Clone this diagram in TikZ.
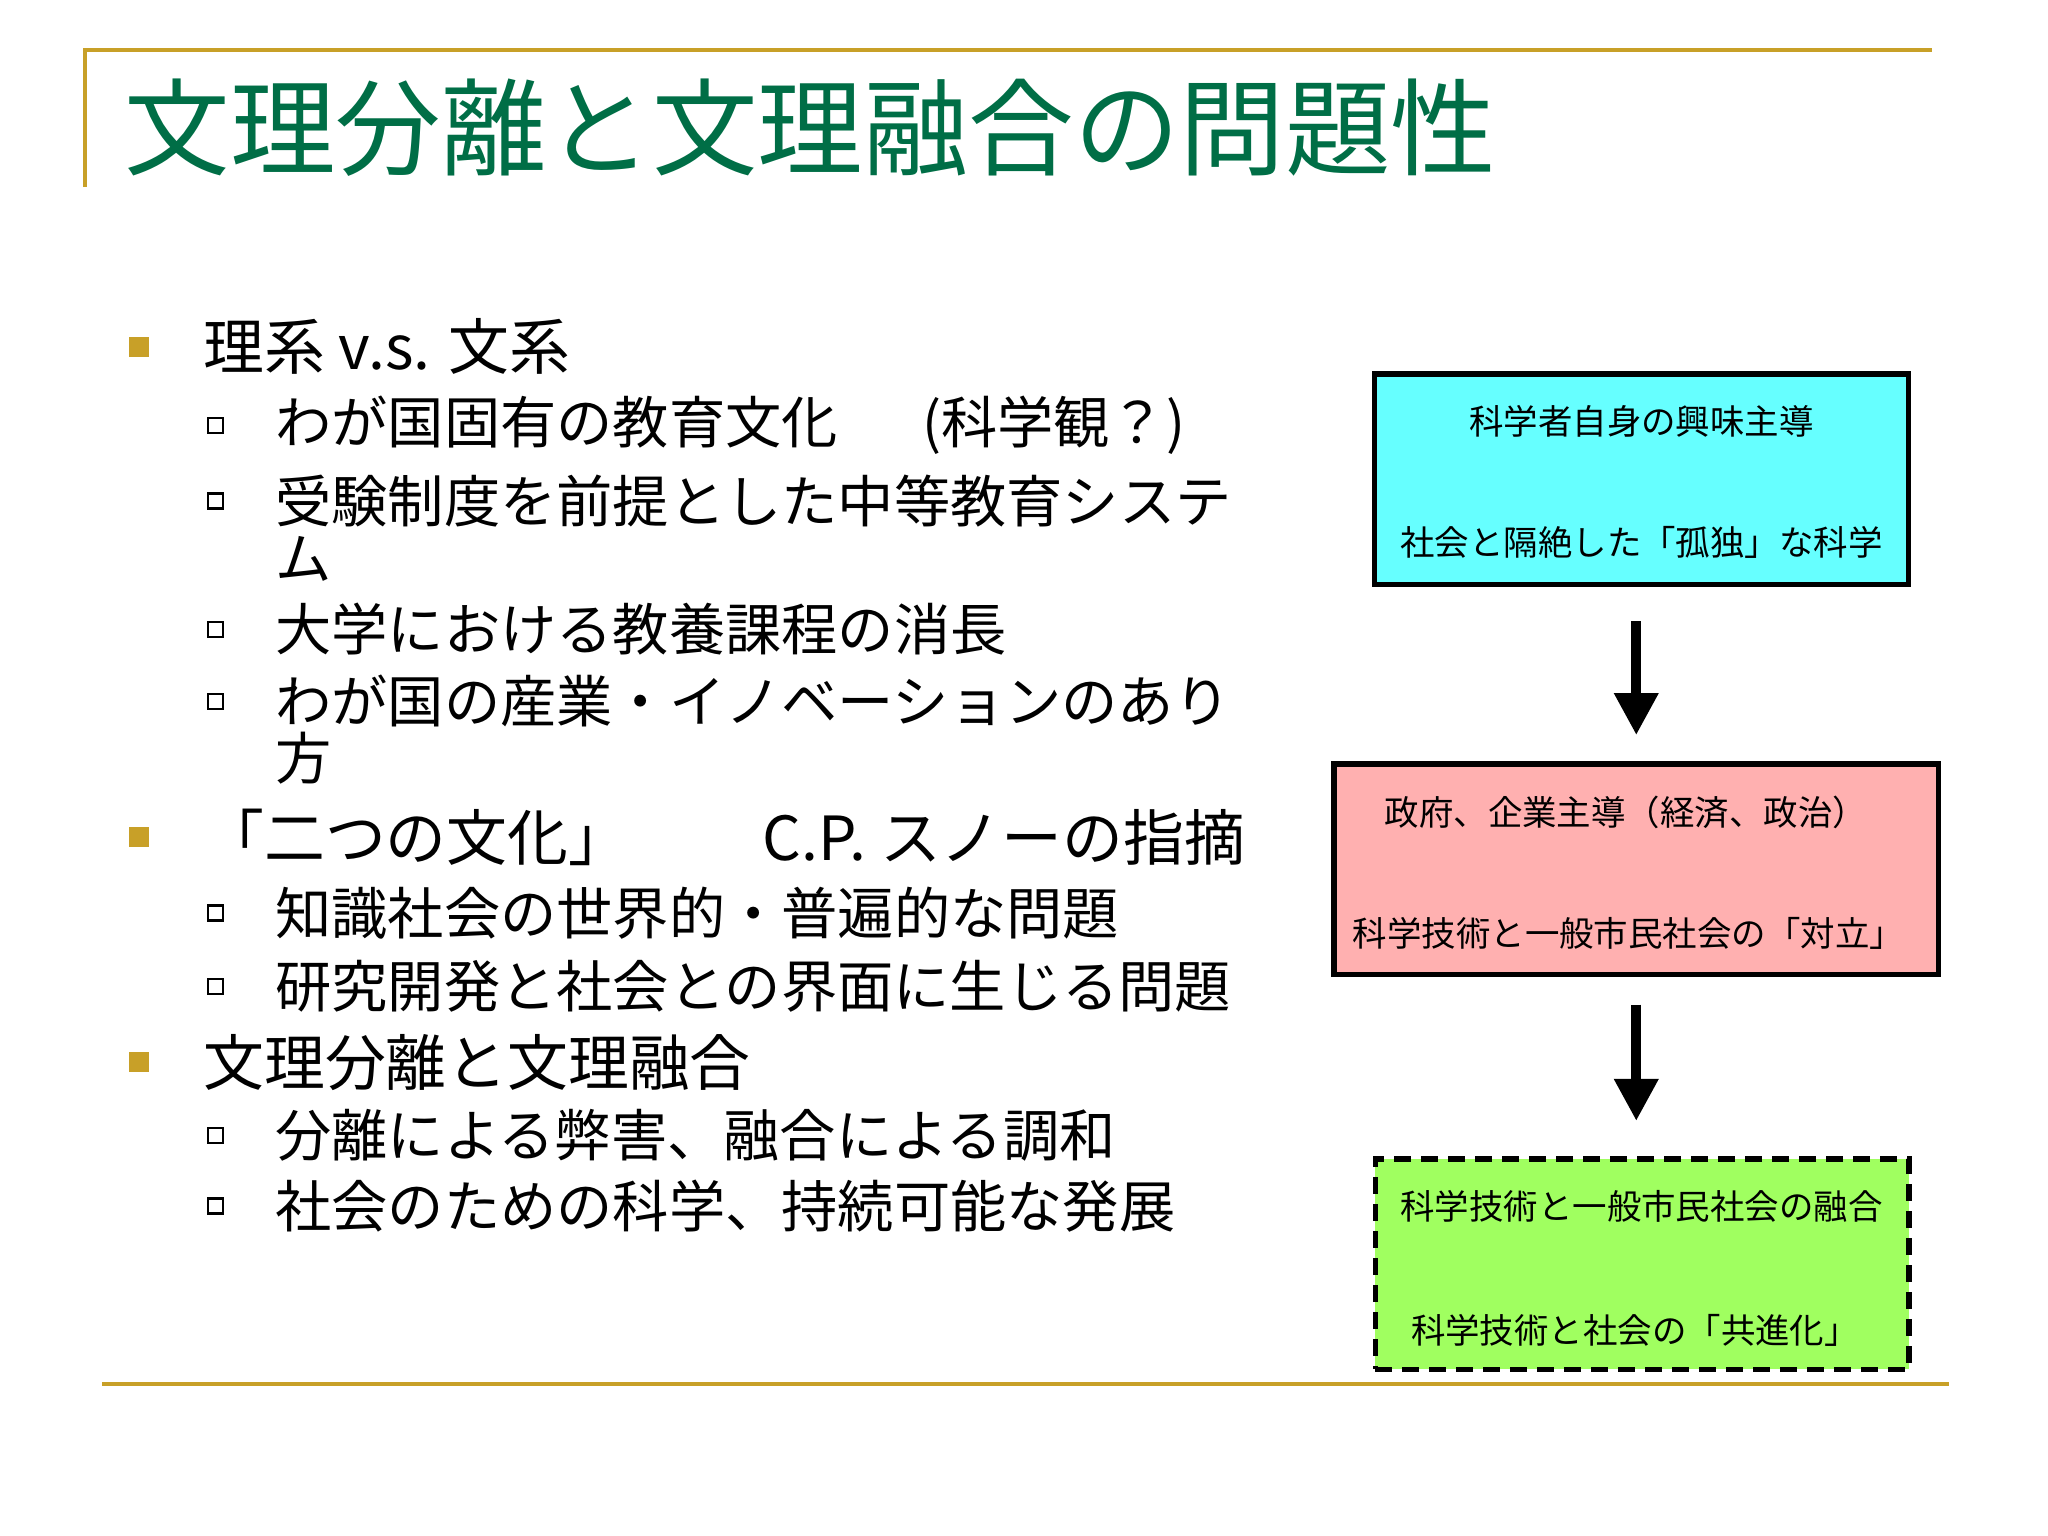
\documentclass[tikz,border=0pt]{standalone}
\usepackage{fontspec}
\setmainfont{Noto Sans CJK JP}
\usetikzlibrary{arrows.meta}
\definecolor{gold}{RGB}{200,160,40}
\definecolor{ttl}{RGB}{0,110,70}
\definecolor{cy}{RGB}{102,255,255}
\definecolor{pk}{RGB}{255,176,176}
\definecolor{gr}{RGB}{160,255,96}
\begin{document}
\begin{tikzpicture}[x=0.01308cm,y=-0.01308cm,
  lone/.style={anchor=west,inner sep=0,font=\fontsize{17.3pt}{20pt}\selectfont},
  ltwo/.style={anchor=west,inner sep=0,font=\fontsize{16pt}{19pt}\selectfont},
  b1/.style={fill=gold,minimum size=0.2cm,inner sep=0},
  b2/.style={draw=black,line width=0.6pt,minimum size=0.15cm,inner sep=0,fill=white},
  box/.style={draw=black,line width=0.055cm,minimum width=408*0.01308cm,minimum height=161*0.01308cm},
  btxt/.style={inner sep=0,font=\fontsize{9.8pt}{12pt}\selectfont},
  arr/.style={line width=0.1cm,-{Triangle[width=0.42cm,length=0.42cm]}}]
\useasboundingbox (0,0) rectangle (1565.8,1174.3);
\draw[gold,line width=0.04cm] (65,143) -- (65,38) -- (1477,38);
\draw[gold,line width=0.04cm] (78,1058) -- (1490,1058);
\node[anchor=west,inner sep=0,text=ttl,font=\fontsize{30pt}{34pt}\selectfont] (title) at (95,98) {文理分離と文理融合の問題性};
% level 1
\foreach \y/\n in {265/a,640/b,812/c}{\node[b1] (q\n) at (106,\y) {};}
\node[lone] (t1) at (155,265) {理系 v.s. 文系};
\node[lone] (t2) at (155,640) {「二つの文化」\hspace{2.2em}C.P. スノーの指摘};
\node[lone] (t3) at (155,812) {文理分離と文理融合};
% level 2
\foreach \y/\n in {325/a,383/b,481/c,536/d,698/e,754/f,868/g,922/h}{\node[b2] (s\n) at (165,\y) {};}
\node[ltwo] (u1) at (210,325) {わが国固有の教育文化\hspace{1.5em}(科学観？)};
\node[ltwo] (u2) at (210,383) {受験制度を前提とした中等教育システ};
\node[ltwo] (u2b) at (210,427) {ム};
\node[ltwo] (u3) at (210,481) {大学における教養課程の消長};
\node[ltwo] (u4) at (210,536) {わが国の産業・イノベーションのあり};
\node[ltwo] (u4b) at (210,580) {方};
\node[ltwo] (u5) at (210,698) {知識社会の世界的・普遍的な問題};
\node[ltwo] (u6) at (210,754) {研究開発と社会との界面に生じる問題};
\node[ltwo] (u7) at (210,868) {分離による弊害、融合による調和};
\node[ltwo] (u8) at (210,922) {社会のための科学、持続可能な発展};
% boxes
\node[box,fill=cy] (A) at (1255,366.5) {};
\node[btxt] at (1255,322) {科学者自身の興味主導};
\node[btxt] at (1255,415) {社会と隔絶した「孤独」な科学};
\node[box,fill=pk,minimum width=462*0.01308cm] (B) at (1251,664.5) {};
\node[btxt] at (1243,621) {政府、企業主導（経済、政治）};
\node[btxt] at (1245,714) {科学技術と一般市民社会の「対立」};
\node[box,fill=gr,dashed,dash pattern=on 0.17cm off 0.1cm] (C) at (1255.5,966.5) {};
\node[btxt] at (1255,922) {科学技術と一般市民社会の融合};
\node[btxt] at (1250,1017) {科学技術と社会の「共進化」};
\coordinate (a1) at (1251,475); \coordinate (a2) at (1251,562);
\coordinate (a3) at (1251,768); \coordinate (a4) at (1251,857);
\draw[arr] (a1) -- (a2);
\draw[arr] (a3) -- (a4);
\end{tikzpicture}
\end{document}
